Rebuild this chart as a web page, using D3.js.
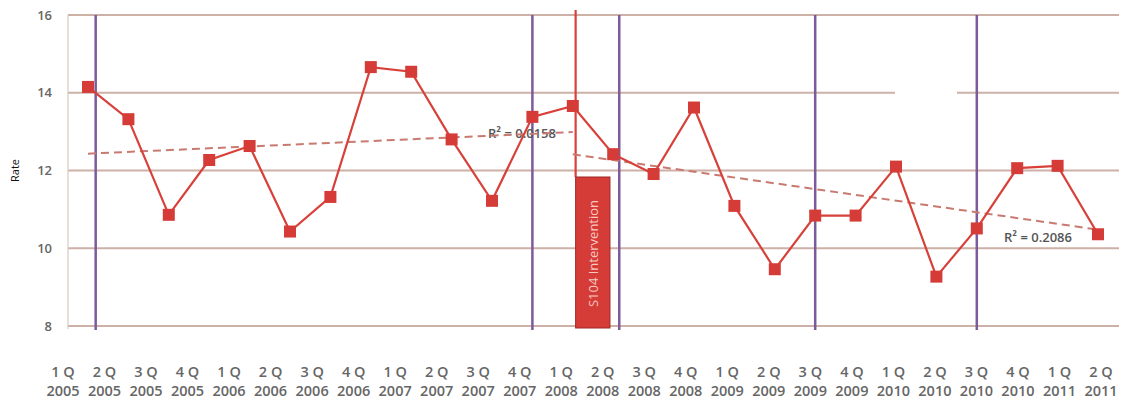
<!DOCTYPE html>
<html>
<head>
<meta charset="utf-8">
<script src="https://cdn.jsdelivr.net/npm/d3@7"></script>
<style>
  html, body { margin: 0; padding: 0; background: #fff; }
  svg { display: block; }
  text { font-family: "Open Sans", "Liberation Sans", sans-serif; }
</style>
</head>
<body>
<svg id="chart" width="1125" height="400"></svg>
<script>
// Quarterly rate, 1Q 2005 – 2Q 2011
const quarters = ["1Q", "2Q", "3Q", "4Q", "1Q", "2Q", "3Q", "4Q", "1Q", "2Q", "3Q", "4Q", "1Q",
                  "2Q", "3Q", "4Q", "1Q", "2Q", "3Q", "4Q", "1Q", "2Q", "3Q", "4Q", "1Q", "2Q"];
const years = ["2005", "2005", "2005", "2005", "2006", "2006", "2006", "2006", "2007", "2007", "2007", "2007", "2008",
               "2008", "2008", "2008", "2009", "2009", "2009", "2009", "2010", "2010", "2010", "2010", "2011", "2011"];
const rates = [14.15, 13.32, 10.86, 12.27, 12.63, 10.43, 11.32, 14.66, 14.54, 12.80, 11.22, 13.38, 13.66,
               12.42, 11.91, 13.62, 11.09, 9.46, 10.84, 10.84, 12.10, 9.27, 10.51, 12.06, 12.12, 10.36];
const yTicks = [8, 10, 12, 14, 16];

// Event markers, as positions on the quarter index
const eventLines = [0.19, 11, 13.15, 18, 22];
const interventionAt = 12.07;
const interventionWidth = 0.85;
const interventionLabel = "S104 Intervention";

// Trend segments (start index, end index) and their R² labels
const trendSegments = [[0, 12], [12, 25]];
const trendLabels = ["R² = 0.0158", "R² = 0.2086"];

const svg = d3.select("#chart");
const idx = d3.range(rates.length);
const catKeys = idx.map(i => quarters[i] + " " + years[i]);

const x = d3.scaleLinear().domain([0, rates.length - 1]).range([88, 1098]);
const xLab = d3.scalePoint().domain(catKeys).range([63, 1101]);
const y = d3.scaleLinear().domain([8, 16]).range([326, 15]);
const plotLeft = 68, plotRight = 1119;

// Horizontal gridlines
svg.append("g").selectAll("line").data(yTicks).join("line")
  .attr("x1", plotLeft).attr("x2", plotRight)
  .attr("y1", d => y(d)).attr("y2", d => y(d))
  .attr("stroke", "#cdb0a6").attr("stroke-width", 1.8);

// Left axis line
svg.append("line")
  .attr("x1", plotLeft).attr("x2", plotLeft)
  .attr("y1", y(16)).attr("y2", y(8) + 3)
  .attr("stroke", "#d9c8c2").attr("stroke-width", 1.2);

// Blank patch over part of the 14 gridline
svg.append("rect")
  .attr("x", 895).attr("y", y(14) - 3).attr("width", 62).attr("height", 36)
  .attr("fill", "#fff");

// Y tick labels
svg.append("g").selectAll("text").data(yTicks).join("text")
  .attr("x", 52).attr("y", d => y(d)).attr("dy", "0.35em")
  .attr("text-anchor", "end").attr("font-size", 13).attr("font-weight", 600).attr("fill", "#666")
  .text(d => d);

// Y axis title
svg.append("text")
  .attr("transform", `translate(19,${y(12)}) rotate(-90)`)
  .attr("text-anchor", "middle").attr("font-size", 11).attr("fill", "#111")
  .text("Rate");

// X labels (quarter over year)
const xl = svg.append("g").selectAll("text").data(idx).join("text")
  .attr("text-anchor", "middle").attr("font-size", 14.5).attr("font-weight", 600)
  .attr("fill", "#666");
xl.append("tspan").attr("x", i => xLab(catKeys[i])).attr("y", 377)
  .text(i => quarters[i].replace("Q", " Q"));
xl.append("tspan").attr("x", i => xLab(catKeys[i])).attr("y", 396)
  .text(i => years[i]);

// Purple event lines
svg.append("g").selectAll("line").data(eventLines).join("line")
  .attr("x1", d => x(d)).attr("x2", d => x(d))
  .attr("y1", y(16)).attr("y2", y(8) + 4)
  .attr("stroke", "#7b5b9b").attr("stroke-width", 2.5);

// Intervention marker: red line and labelled bar
svg.append("line")
  .attr("x1", x(interventionAt)).attr("x2", x(interventionAt))
  .attr("y1", 10).attr("y2", 177)
  .attr("stroke", "#d9403a").attr("stroke-width", 2.2);
const barX0 = x(interventionAt), barX1 = x(interventionAt + interventionWidth);
svg.append("rect")
  .attr("x", barX0).attr("y", 177)
  .attr("width", barX1 - barX0).attr("height", y(8) + 2 - 177)
  .attr("fill", "#d63c37").attr("stroke", "#9a2a28").attr("stroke-width", 1);
svg.append("text")
  .attr("transform", `translate(${(barX0 + barX1) / 2 + 1},${(177 + y(8)) / 2 + 2}) rotate(-90)`)
  .attr("text-anchor", "middle").attr("dy", "0.35em")
  .attr("font-size", 13).attr("fill", "#f6c9c2")
  .text(interventionLabel);

// Least-squares trend for each segment
function fit(i0, i1) {
  const xs = d3.range(i0, i1 + 1);
  const mx = d3.mean(xs), my = d3.mean(xs, i => rates[i]);
  const sxy = d3.sum(xs, i => (i - mx) * (rates[i] - my));
  const sxx = d3.sum(xs, i => (i - mx) * (i - mx));
  const b = sxy / sxx, a = my - b * mx;
  return [[i0, a + b * i0], [i1, a + b * i1]];
}
const trendLine = d3.line().x(d => x(d[0])).y(d => y(d[1]));
const trends = trendSegments.map(([a, b]) => fit(a, b));

// R² labels (drawn beneath the dashed trend)
svg.append("text")
  .attr("x", 522).attr("y", 133).attr("dy", "0.35em")
  .attr("text-anchor", "middle").attr("font-size", 13).attr("font-weight", 600).attr("fill", "#555")
  .text(trendLabels[0]);
svg.append("text")
  .attr("x", 1038).attr("y", 237).attr("dy", "0.35em")
  .attr("text-anchor", "middle").attr("font-size", 13).attr("font-weight", 600).attr("fill", "#555")
  .text(trendLabels[1]);

svg.append("g").selectAll("path").data(trends).join("path")
  .attr("d", trendLine)
  .attr("fill", "none").attr("stroke", "#c97a70").attr("stroke-width", 2)
  .attr("stroke-dasharray", "8,5");

// Rate series
svg.append("path").datum(idx)
  .attr("d", d3.line().x(i => x(i)).y(i => y(rates[i])))
  .attr("fill", "none").attr("stroke", "#d8403a").attr("stroke-width", 2.2);

svg.append("g").selectAll("rect").data(idx).join("rect")
  .attr("x", i => x(i) - 6).attr("y", i => y(rates[i]) - 6)
  .attr("width", 12).attr("height", 12)
  .attr("fill", "#d63c37");
</script>
</body>
</html>
